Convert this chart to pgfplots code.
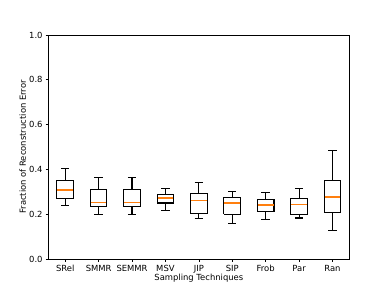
\documentclass[border=0pt]{standalone}
\usepackage{fontspec}
\setmainfont{DejaVu Sans}
\usepackage{pgfplots}
\pgfplotsset{compat=1.18}
\definecolor{mplorange}{HTML}{FF7F0E}
\begin{document}
\begin{tikzpicture}
\path[use as bounding box] (0,0) rectangle (460.8pt,345.6pt);
\begin{axis}[
  at={(57.6pt,38pt)}, anchor=south west,
  scale only axis, width=357.1pt, height=266.1pt,
  xmin=0.5, xmax=9.5, ymin=0, ymax=1,
  xtick={1,2,3,4,5,6,7,8,9},
  xticklabels={SRel,SMMR,SEMMR,MSV,JIP,SIP,Frob,Par,Ran},
  ytick={0,0.2,0.4,0.6,0.8,1.0},
  yticklabel style={/pgf/number format/fixed,/pgf/number format/fixed zerofill,/pgf/number format/precision=1},
  /pgf/number format/assume math mode=true,
  tick align=outside, major tick length=3.5pt,
  tick style={black, line width=0.8pt},
  axis line style={line width=0.8pt},
  tick label style={font=\fontsize{10}{12}\selectfont},
  label style={font=\fontsize{10}{12}\selectfont},
  xtick pos=bottom, ytick pos=left,
  xlabel={Sampling Techniques},
  ylabel={Fraction of Reconstruction Error},
  xlabel style={yshift=5pt},
  ylabel style={yshift=-3pt},
  unbounded coords=jump,
]
% boxes (Q1 to Q3)
\addplot[black, line width=1.25pt, mark=none] coordinates {
(0.75,0.270) (1.25,0.270) (1.25,0.349) (0.75,0.349) (0.75,0.270) (nan,nan)
(1.75,0.234) (2.25,0.234) (2.25,0.310) (1.75,0.310) (1.75,0.234) (nan,nan)
(2.75,0.234) (3.25,0.234) (3.25,0.310) (2.75,0.310) (2.75,0.234) (nan,nan)
(3.75,0.250) (4.25,0.250) (4.25,0.289) (3.75,0.289) (3.75,0.250) (nan,nan)
(4.75,0.203) (5.25,0.203) (5.25,0.293) (4.75,0.293) (4.75,0.203) (nan,nan)
(5.75,0.200) (6.25,0.200) (6.25,0.273) (5.75,0.273) (5.75,0.200) (nan,nan)
(6.75,0.213) (7.25,0.213) (7.25,0.265) (6.75,0.265) (6.75,0.213) (nan,nan)
(7.75,0.197) (8.25,0.197) (8.25,0.270) (7.75,0.270) (7.75,0.197) (nan,nan)
(8.75,0.206) (9.25,0.206) (9.25,0.349) (8.75,0.349) (8.75,0.206)
};
% whiskers
\addplot[black, line width=1.25pt, mark=none] coordinates {
(1,0.349) (1,0.402) (nan,nan) (1,0.270) (1,0.238) (nan,nan)
(2,0.310) (2,0.364) (nan,nan) (2,0.234) (2,0.197) (nan,nan)
(3,0.310) (3,0.364) (nan,nan) (3,0.234) (3,0.197) (nan,nan)
(4,0.289) (4,0.313) (nan,nan) (4,0.250) (4,0.215) (nan,nan)
(5,0.293) (5,0.340) (nan,nan) (5,0.203) (5,0.180) (nan,nan)
(6,0.273) (6,0.302) (nan,nan) (6,0.200) (6,0.159) (nan,nan)
(7,0.265) (7,0.295) (nan,nan) (7,0.213) (7,0.176) (nan,nan)
(8,0.270) (8,0.313) (nan,nan) (8,0.197) (8,0.183) (nan,nan)
(9,0.349) (9,0.484) (nan,nan) (9,0.206) (9,0.127)
};
% caps
\addplot[black, line width=1.25pt, mark=none] coordinates {
(0.875,0.402) (1.125,0.402) (nan,nan) (0.875,0.238) (1.125,0.238) (nan,nan)
(1.875,0.364) (2.125,0.364) (nan,nan) (1.875,0.197) (2.125,0.197) (nan,nan)
(2.875,0.364) (3.125,0.364) (nan,nan) (2.875,0.197) (3.125,0.197) (nan,nan)
(3.875,0.313) (4.125,0.313) (nan,nan) (3.875,0.215) (4.125,0.215) (nan,nan)
(4.875,0.340) (5.125,0.340) (nan,nan) (4.875,0.180) (5.125,0.180) (nan,nan)
(5.875,0.302) (6.125,0.302) (nan,nan) (5.875,0.159) (6.125,0.159) (nan,nan)
(6.875,0.295) (7.125,0.295) (nan,nan) (6.875,0.176) (7.125,0.176) (nan,nan)
(7.875,0.313) (8.125,0.313) (nan,nan) (7.875,0.183) (8.125,0.183) (nan,nan)
(8.875,0.484) (9.125,0.484) (nan,nan) (8.875,0.127) (9.125,0.127)
};
% medians
\addplot[mplorange, line width=1.9pt, mark=none] coordinates {
(0.765,0.309) (1.235,0.309) (nan,nan)
(1.765,0.253) (2.235,0.253) (nan,nan)
(2.765,0.253) (3.235,0.253) (nan,nan)
(3.765,0.273) (4.235,0.273) (nan,nan)
(4.765,0.261) (5.235,0.261) (nan,nan)
(5.765,0.249) (6.235,0.249) (nan,nan)
(6.765,0.241) (7.235,0.241) (nan,nan)
(7.765,0.244) (8.235,0.244) (nan,nan)
(8.765,0.277) (9.235,0.277)
};
\end{axis}
\end{tikzpicture}
\end{document}
